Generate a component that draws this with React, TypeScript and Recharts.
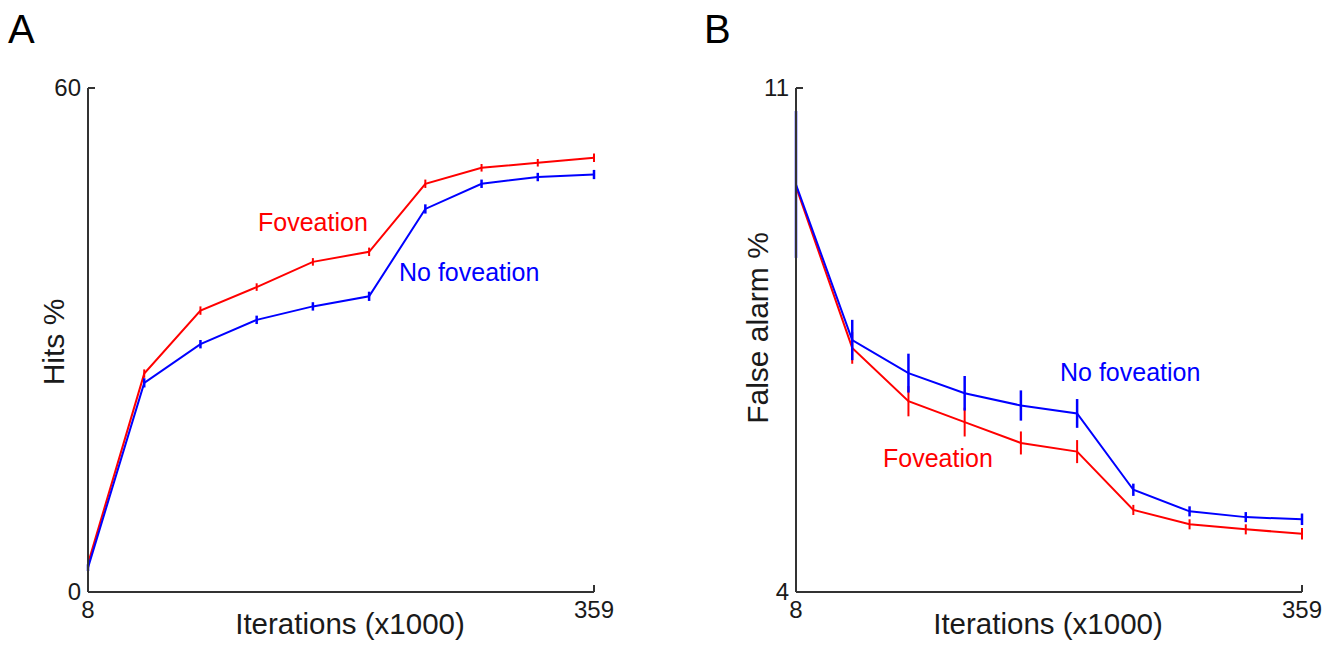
import React from 'react';
import { LineChart, Line, XAxis, YAxis, ErrorBar } from 'recharts';

const iterations = [8, 47, 86, 125, 164, 203, 242, 281, 320, 359];

const hitsFoveation = [3.4, 26.0, 33.5, 36.3, 39.3, 40.5, 48.6, 50.5, 51.1, 51.7];
const hitsFoveationErr = [0.4, 0.5, 0.5, 0.45, 0.45, 0.5, 0.5, 0.45, 0.45, 0.5];
const hitsNoFoveation = [2.9, 24.9, 29.5, 32.4, 34.0, 35.2, 45.6, 48.6, 49.4, 49.7];
const hitsNoFoveationErr = [0.4, 0.55, 0.5, 0.5, 0.5, 0.55, 0.55, 0.5, 0.5, 0.55];

const faFoveation = [9.63, 7.39, 6.65, 6.36, 6.07, 5.95, 5.14, 4.94, 4.87, 4.81];
const faFoveationErr = [0.9, 0.22, 0.21, 0.2, 0.16, 0.16, 0.07, 0.07, 0.07, 0.08];
const faNoFoveation = [9.66, 7.5, 7.04, 6.76, 6.59, 6.48, 5.42, 5.12, 5.04, 5.01];
const faNoFoveationErr = [1.02, 0.28, 0.27, 0.24, 0.21, 0.2, 0.085, 0.07, 0.07, 0.08];

const xTicks = [8, 359];
const hitsTicks = [0, 60];
const faTicks = [4, 11];

const hitsData = iterations.map((it, i) => ({
  it,
  fov: hitsFoveation[i],
  fovErr: hitsFoveationErr[i],
  nofov: hitsNoFoveation[i],
  nofovErr: hitsNoFoveationErr[i],
}));

const faData = iterations.map((it, i) => ({
  it,
  fov: faFoveation[i],
  fovErr: faFoveationErr[i],
  nofov: faNoFoveation[i],
  nofovErr: faNoFoveationErr[i],
}));

const FONT = '"Liberation Sans", Arial, Helvetica, sans-serif';
const AXIS = '#333333';
const RED = '#ff0000';
const BLUE = '#0000ff';
const TICK_FS = 24;

const XTick = (props: any) => {
  const { x, y, payload } = props;
  return (
    <g>
      <line x1={x} x2={x} y1={y} y2={y - 7} stroke={AXIS} strokeWidth={2} />
      <text x={x} y={y + 26} textAnchor="middle" fontSize={TICK_FS} fontFamily={FONT} fill="#1a1a1a">
        {payload.value}
      </text>
    </g>
  );
};

const YTick = (props: any) => {
  const { x, y, payload } = props;
  return (
    <g>
      <line x1={x} x2={x + 7} y1={y} y2={y} stroke={AXIS} strokeWidth={2} />
      <text x={x - 7} y={y + 8} textAnchor="end" fontSize={TICK_FS} fontFamily={FONT} fill="#1a1a1a">
        {payload.value}
      </text>
    </g>
  );
};

const margin = { top: 88, right: 76, bottom: 23, left: 28 };

function Panel({ data, yDomain, yTicks }: { data: any[]; yDomain: number[]; yTicks: number[] }) {
  return (
    <LineChart width={670} height={645} data={data} margin={margin}>
      <Line
        dataKey="fov"
        stroke={RED}
        strokeWidth={2}
        dot={false}
        isAnimationActive={false}
      >
        <ErrorBar dataKey="fovErr" width={0} stroke={RED} strokeWidth={2} direction="y" isAnimationActive={false} />
      </Line>
      <Line
        dataKey="nofov"
        stroke={BLUE}
        strokeWidth={2}
        dot={false}
        isAnimationActive={false}
      >
        <ErrorBar dataKey="nofovErr" width={0} stroke={BLUE} strokeWidth={2.5} direction="y" isAnimationActive={false} />
      </Line>
      <XAxis
        dataKey="it"
        type="number"
        domain={[8, 359]}
        ticks={xTicks}
        height={30}
        tickSize={0}
        tickMargin={0}
        tickLine={false}
        tick={<XTick />}
        stroke={AXIS}
        strokeWidth={2}
        interval={0}
      />
      <YAxis
        type="number"
        domain={yDomain}
        ticks={yTicks}
        width={60}
        tickSize={0}
        tickMargin={0}
        tickLine={false}
        tick={<YTick />}
        stroke={AXIS}
        strokeWidth={2}
        interval={0}
      />
    </LineChart>
  );
}

export default function App() {
  return (
    <div style={{ position: 'fixed', left: 0, top: 0, width: 1340, height: 645, background: '#fff' }}>
      <div style={{ position: 'absolute', left: 0, top: 0 }}>
        <Panel data={hitsData} yDomain={[0, 60]} yTicks={hitsTicks} />
      </div>
      <div style={{ position: 'absolute', left: 708, top: 0 }}>
        <Panel data={faData} yDomain={[4, 11]} yTicks={faTicks} />
      </div>
      <svg
        width={1340}
        height={645}
        style={{ position: 'absolute', left: 0, top: 0, pointerEvents: 'none' }}
        fontFamily={FONT}
      >
        <text x={8} y={43} fontSize={40} fill="#000">A</text>
        <text x={704} y={43} fontSize={40} fill="#000">B</text>

        <text x={350} y={634} textAnchor="middle" fontSize={29.5} fill="#1a1a1a">Iterations (x1000)</text>
        <text x={1048} y={634} textAnchor="middle" fontSize={29.5} fill="#1a1a1a">Iterations (x1000)</text>

        <text transform="translate(64,342) rotate(-90)" textAnchor="middle" fontSize={30} fill="#1a1a1a">Hits %</text>
        <text transform="translate(768,328) rotate(-90)" textAnchor="middle" fontSize={30} fill="#1a1a1a">False alarm %</text>

        <text x={258} y={231} fontSize={25} fill={RED}>Foveation</text>
        <text x={399} y={281} fontSize={25} fill={BLUE}>No foveation</text>
        <text x={1060} y={381} fontSize={25} fill={BLUE}>No foveation</text>
        <text x={883} y={467} fontSize={25} fill={RED}>Foveation</text>
      </svg>
    </div>
  );
}
